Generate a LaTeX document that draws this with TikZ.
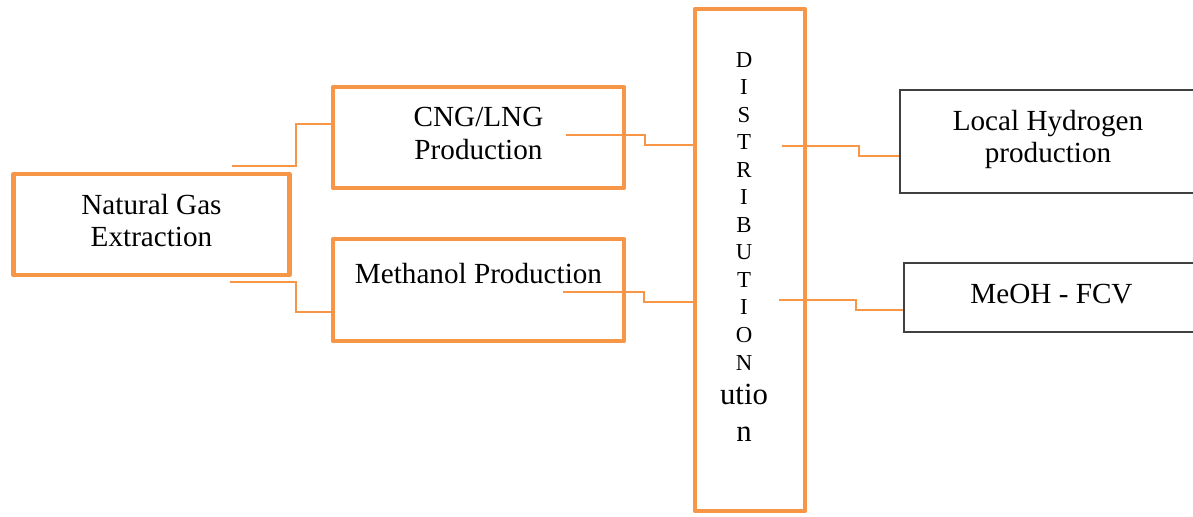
\documentclass[tikz,border=0pt]{standalone}
\usepackage{fontspec}
\setmainfont{Liberation Serif}
\usetikzlibrary{positioning}
\definecolor{gasorange}{RGB}{247,150,70}
\tikzset{stage/.style={draw=gasorange,line width=2.4pt,line join=round,align=center,inner sep=0pt,font=\fontsize{16.6}{18.6}\selectfont},
  outlet/.style={draw=black!75,line width=0.8pt,align=center,inner sep=0pt,font=\fontsize{16.6}{18.6}\selectfont},
  pipe/.style={gasorange,line width=1pt}}

\begin{document}
\begin{tikzpicture}
    \useasboundingbox (0,0) rectangle (23.86,-10.32);
    \node (gas) [stage,minimum width=5.52cm,minimum height=2.02cm,text depth=0.16cm] at (3.03,-4.49) {Natural Gas\\Extraction};
    \node (cng) [stage,minimum width=5.82cm,minimum height=2.02cm,text depth=0.16cm] at (9.57,-2.75) {CNG/LNG\\Production};
    \node (meoh) [stage,minimum width=5.82cm,minimum height=2.04cm,text depth=0.66cm] at (9.57,-5.8) {Methanol Production};
    \node (dist) [stage,minimum width=2.2cm,minimum height=10.04cm] at (15.0,-5.2) {};
    \node (distlabel) [anchor=north,align=center,inner sep=0pt,font=\fontsize{13}{15.66}\selectfont] at (14.88,-1.04)
        {D\\I\\S\\T\\R\\I\\B\\U\\T\\I\\O\\N\\[3.9pt]{\fontsize{17.5}{21}\selectfont utio}\\[5.4pt]{\fontsize{17.5}{21}\selectfont n}};
    \node (local) [outlet,minimum width=5.92cm,minimum height=2.06cm,text depth=0.21cm] at (20.96,-2.83) {Local Hydrogen\\production};
    \node (fcv) [outlet,minimum width=5.9cm,minimum height=1.38cm,text depth=0.16cm] at (21.03,-5.95) {MeOH - FCV};

    \coordinate (gasup) at (4.64,-3.32);
    \coordinate (gasdown) at (4.6,-5.64);
    \coordinate (cngout) at (11.32,-2.70);
    \coordinate (meohout) at (11.26,-5.84);
    \coordinate (distup) at (15.64,-2.92);
    \coordinate (distdown) at (15.58,-6.0);

    \draw [pipe] (gasup) -| (5.92,-2.48) -- (5.92,-2.48 -| cng.west);
    \draw [pipe] (gasdown) -| (5.92,-6.24) -- (5.92,-6.24 -| meoh.west);
    \draw [pipe] (cngout) -| (12.9,-2.9) -- (12.9,-2.9 -| dist.west);
    \draw [pipe] (meohout) -| (12.88,-6.04) -- (12.88,-6.04 -| dist.west);
    \draw [pipe] (distup) -| (17.18,-3.12) -- (17.18,-3.12 -| local.west);
    \draw [pipe] (distdown) -| (17.12,-6.2) -- (17.12,-6.2 -| fcv.west);
\end{tikzpicture}
\end{document}
